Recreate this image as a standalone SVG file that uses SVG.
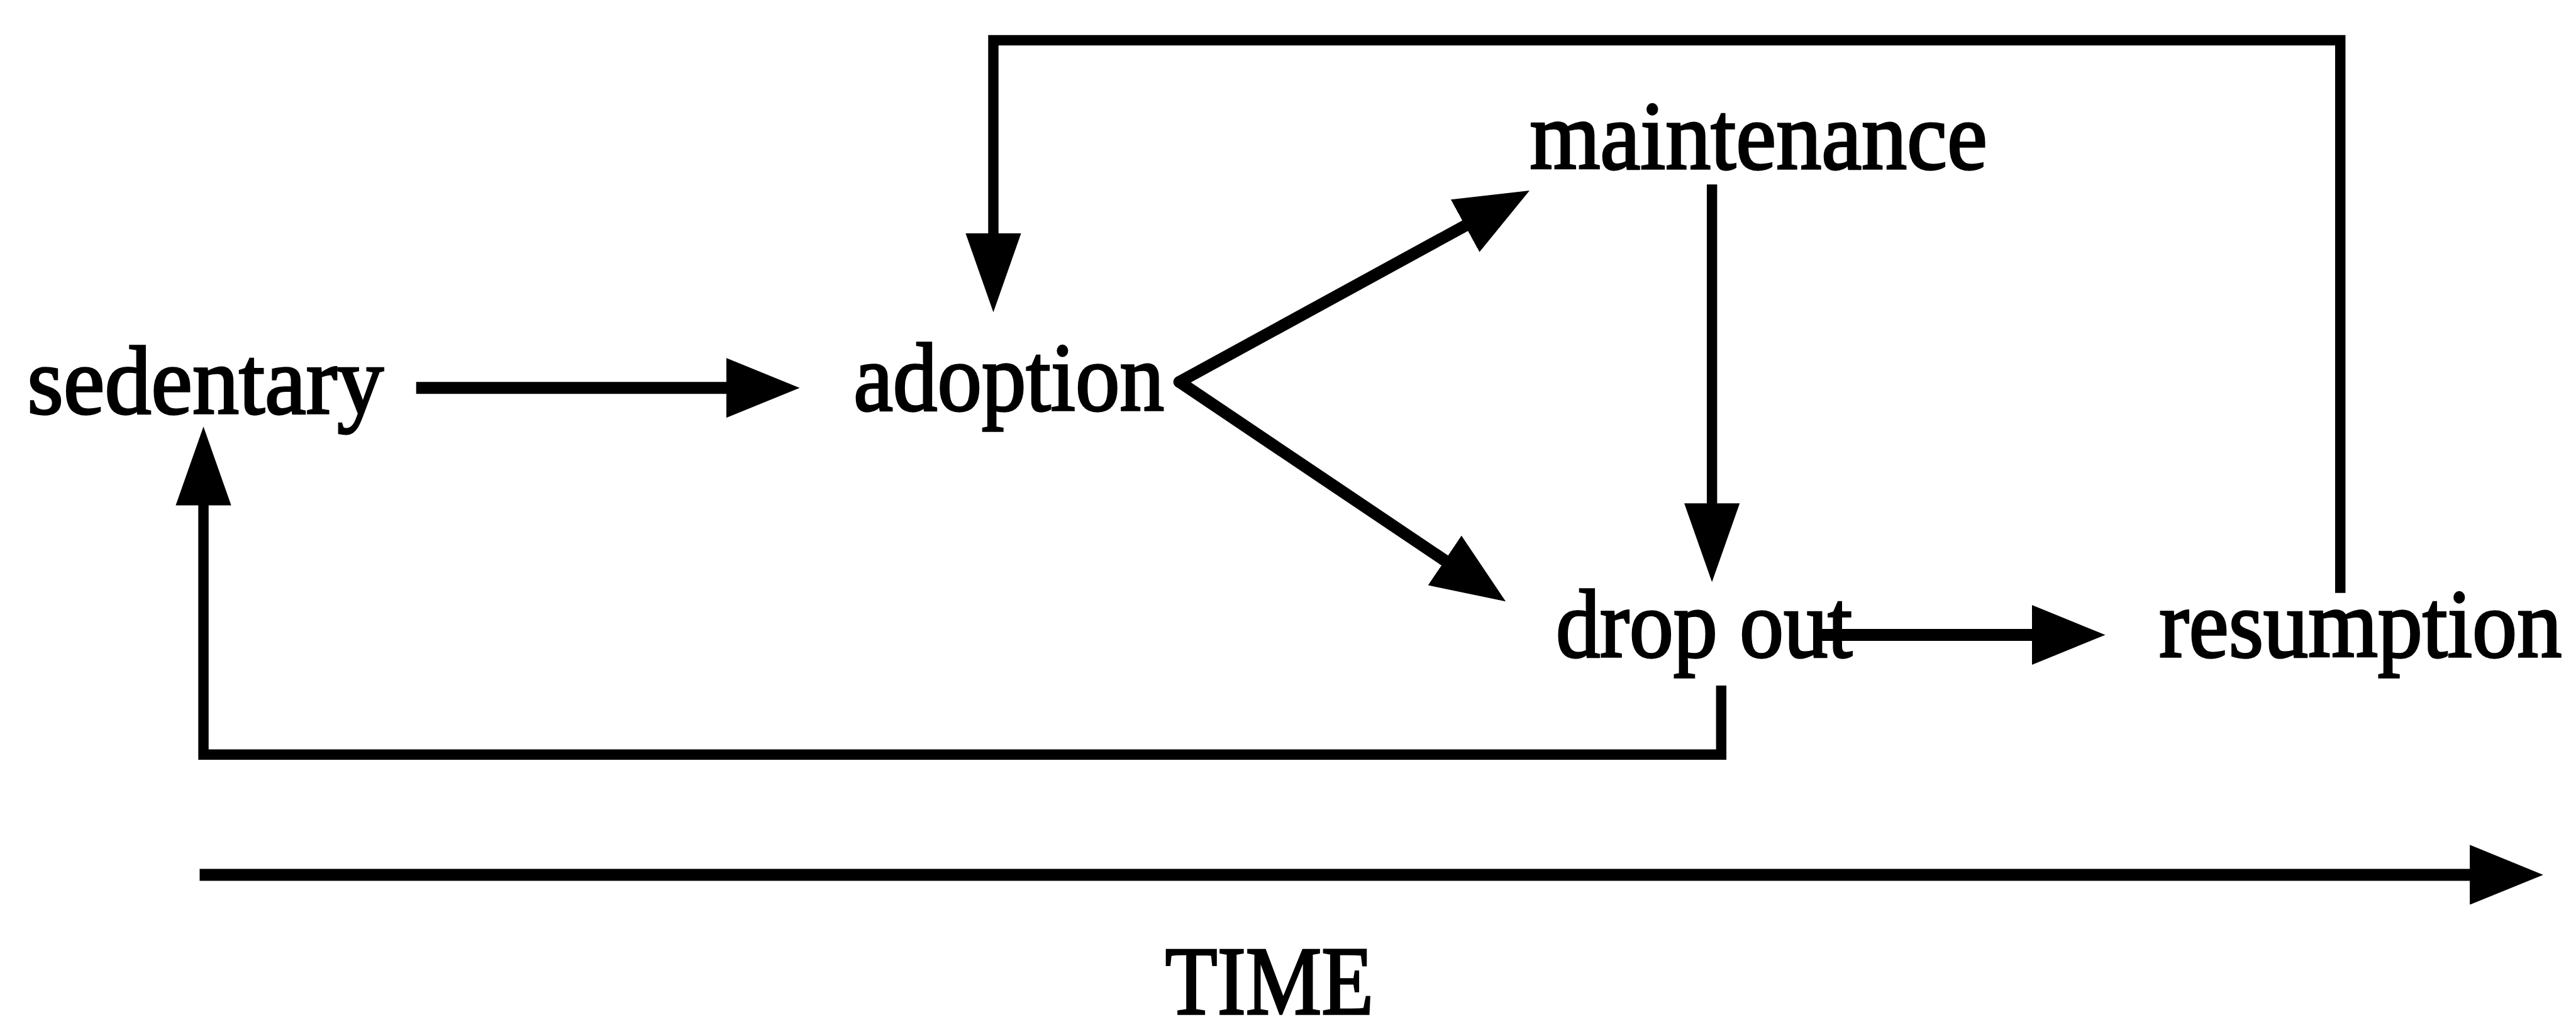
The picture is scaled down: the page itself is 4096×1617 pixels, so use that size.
<svg xmlns="http://www.w3.org/2000/svg" width="4096" height="1617" viewBox="0 0 4096 1617">
<style>
  text { font-family: "Liberation Serif", "Times New Roman", serif; font-size: 180px; fill: #000; stroke: #000; stroke-width: 4px; }
  .thick { fill: none; stroke: #000; stroke-width: 22; stroke-linecap: butt; }
  .thin { fill: none; stroke: #000; stroke-width: 19; stroke-linejoin: miter; }
  .diag { fill: none; stroke: #000; stroke-width: 22; stroke-linecap: round; }
</style>
<defs>
  <marker id="head" markerUnits="userSpaceOnUse" viewBox="0 0 135 110" markerWidth="135" markerHeight="110" refX="75" refY="55" orient="auto">
    <path d="M0,0 L135,55 L0,110 Z" fill="#000"/>
  </marker>
  <marker id="headNarrow" markerUnits="userSpaceOnUse" viewBox="0 0 145 102" markerWidth="145" markerHeight="102" refX="85" refY="51" orient="auto">
    <path d="M0,0 L145,51 L0,102 Z" fill="#000"/>
  </marker>
</defs>
<rect width="4096" height="1617" fill="#fff"/>
<g transform="scale(0.865)">
  <g id="connectors">
    <path class="thick" d="M765,713 H1410" marker-end="url(#head)"/>
    <path class="diag" d="M2168,702 L2759,379" marker-end="url(#head)"/>
    <path class="diag" d="M2168,702 L2718,1072" marker-end="url(#head)"/>
    <path class="thin" d="M3147,339 V1010" marker-end="url(#headNarrow)"/>
    <path class="thick" d="M3342,1167 H3810" marker-end="url(#head)"/>
    <path class="thin" d="M4302,1090 V74 H1826 V514" marker-end="url(#headNarrow)"/>
    <path class="thin" d="M3164,1260 V1387 H374 V844" marker-end="url(#headNarrow)"/>
    <path class="thick" d="M367,1608 H4615" marker-end="url(#head)"/>
  </g>
  <g id="sedentary"><text x="50" y="760" textLength="655" lengthAdjust="spacingAndGlyphs">sedentary</text></g>
  <g id="adoption"><text x="1569" y="754" textLength="571" lengthAdjust="spacingAndGlyphs">adoption</text></g>
  <g id="maintenance"><text x="2812" y="310" textLength="841" lengthAdjust="spacingAndGlyphs">maintenance</text></g>
  <g id="dropout"><text x="2860" y="1207" textLength="545" lengthAdjust="spacingAndGlyphs">drop out</text></g>
  <g id="resumption"><text x="3969" y="1207" textLength="740" lengthAdjust="spacingAndGlyphs">resumption</text></g>
  <g id="time"><text x="2142" y="1864" textLength="383" lengthAdjust="spacingAndGlyphs">TIME</text></g>
</g>
</svg>
